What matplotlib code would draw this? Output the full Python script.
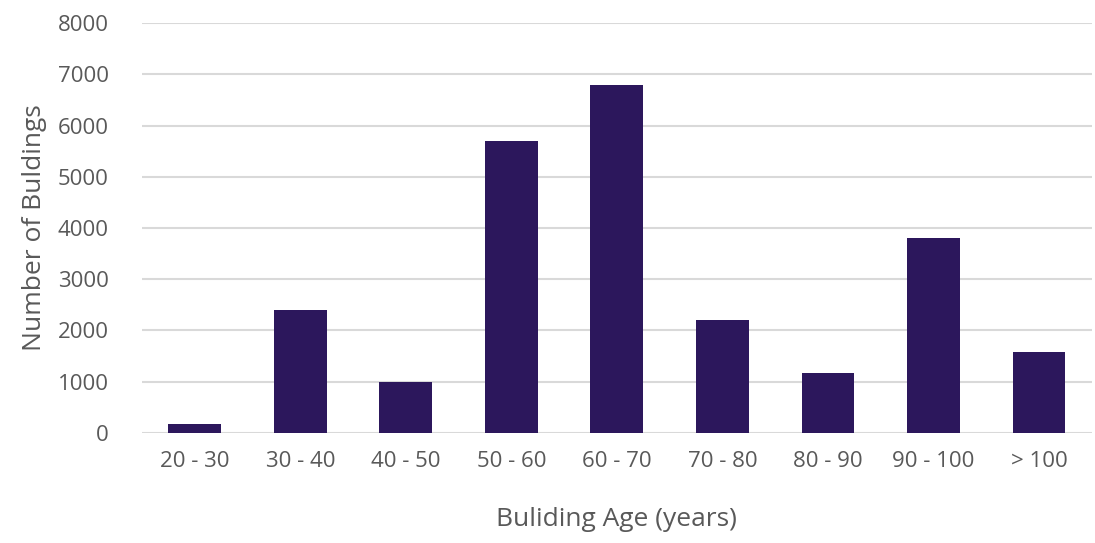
import matplotlib.pyplot as plt

categories = ['20 - 30', '30 - 40', '40 - 50', '50 - 60', '60 - 70',
              '70 - 80', '80 - 90', '90 - 100', '> 100']
buildings = [180, 2400, 1000, 5700, 6800, 2200, 1170, 3800, 1590]
y_ticks = [0, 1000, 2000, 3000, 4000, 5000, 6000, 7000, 8000]

plt.rcParams['font.family'] = ['Open Sans', 'DejaVu Sans']
text_color = '#595959'

fig = plt.figure(figsize=(10.95, 5.43), dpi=100)
ax = fig.add_axes([0.1297, 0.2026, 0.8673, 0.755])

ax.bar(range(len(categories)), buildings, width=0.5, color='#2C175C',
       zorder=3)

ax.set_xlim(-0.5, len(categories) - 0.5)
ax.set_ylim(0, 8000)
ax.set_yticks(y_ticks)
ax.set_xticks(range(len(categories)))
ax.set_xticklabels(categories)
ax.yaxis.grid(True, color='#D9D9D9', linewidth=1.5, zorder=0)
ax.tick_params(axis='both', length=0, labelsize=16, colors=text_color)
ax.tick_params(axis='y', pad=24)
ax.tick_params(axis='x', pad=13)
for spine in ax.spines.values():
    spine.set_visible(False)

ax.set_xlabel('Buliding Age (years)', fontsize=19, color=text_color,
              labelpad=25)
ax.set_ylabel('Number of Buldings', fontsize=19, color=text_color,
              labelpad=8)

fig.savefig('out.png', dpi=100)
